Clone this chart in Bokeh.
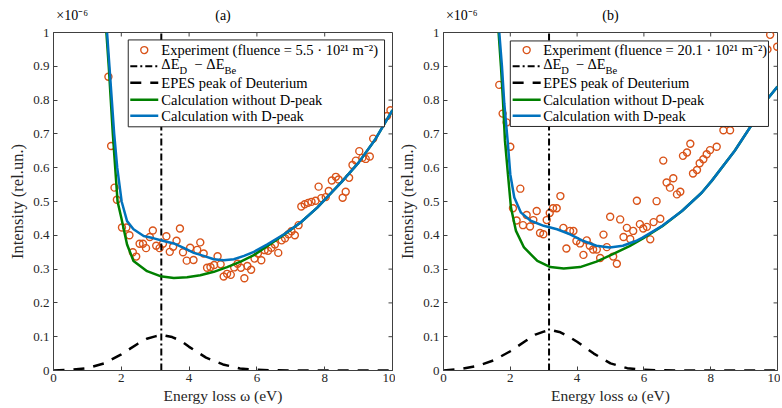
from bokeh.plotting import figure
from bokeh.models import Range1d, FixedTicker, CustomJSTickFormatter, LinearAxis
from bokeh.layouts import row
from bokeh.embed import file_html
from bokeh.resources import INLINE
from bokeh.core.properties import value

# ---------------- data (intensity in units of 1e-6 rel.un.) ----------------
x_ticks = [0, 2, 4, 6, 8, 10]
y_ticks = [0, 0.1, 0.2, 0.3, 0.4, 0.5, 0.6, 0.7, 0.8, 0.9, 1.0]
titles = ["(a)", "(b)"]
exponent_label = "×10⁻⁶"
fluences = ["5.5", "20.1"]
delta_e = [3.18, 3.16]

exp_a_x = [1.62, 1.70, 1.80, 1.87, 2.02, 2.15, 2.24, 2.34, 2.44, 2.54, 2.64, 2.73, 2.84, 2.93,
           3.03, 3.13, 3.23, 3.33, 3.43, 3.53, 3.63, 3.73, 3.82, 3.93, 4.03, 4.13, 4.24, 4.33,
           4.43, 4.53, 4.63, 4.74, 4.84, 4.93, 5.02, 5.12, 5.23, 5.33, 5.43, 5.53, 5.63, 5.72,
           5.83, 5.93, 6.03, 6.13, 6.23, 6.33, 6.43, 6.53, 6.63, 6.73, 6.83, 6.93, 7.02, 7.12,
           7.23, 7.31, 7.41, 7.51, 7.61, 7.73, 7.82, 7.90, 8.03, 8.12, 8.21, 8.33, 8.41, 8.53,
           8.62, 8.72, 8.82, 8.92, 9.02, 9.11, 9.21, 9.33, 9.43, 9.84, 9.94]
exp_a_y = [0.869, 0.664, 0.541, 0.505, 0.423, 0.423, 0.400, 0.350, 0.337, 0.375, 0.375, 0.362, 0.395, 0.414,
           0.369, 0.362, 0.375, 0.397, 0.351, 0.366, 0.384, 0.420, 0.350, 0.325, 0.363, 0.327, 0.357, 0.379,
           0.346, 0.304, 0.306, 0.312, 0.338, 0.314, 0.278, 0.286, 0.283, 0.305, 0.316, 0.304, 0.273, 0.309,
           0.298, 0.331, 0.346, 0.326, 0.356, 0.354, 0.363, 0.373, 0.348, 0.385, 0.391, 0.403, 0.412, 0.400,
           0.430, 0.485, 0.492, 0.496, 0.499, 0.502, 0.544, 0.510, 0.513, 0.531, 0.562, 0.573, 0.565, 0.511,
           0.529, 0.570, 0.608, 0.621, 0.649, 0.629, 0.626, 0.633, 0.686, 0.753, 0.770]

green_a_x = [1.56, 1.63, 1.69, 1.75, 1.82, 1.89, 2.00, 2.17, 2.36, 2.76, 3.15, 3.55, 3.94, 4.33,
             4.73, 5.12, 5.52, 5.91, 6.30, 6.80, 7.29, 7.78, 8.50, 9.00, 9.50, 10.0]
green_a_y = [1.0, 0.9, 0.8, 0.7, 0.6, 0.5, 0.452, 0.373, 0.324, 0.294, 0.279, 0.274, 0.276, 0.282,
             0.292, 0.306, 0.322, 0.341, 0.368, 0.402, 0.438, 0.482, 0.558, 0.615, 0.685, 0.770]

blue_a_x = [1.58, 1.65, 1.72, 1.79, 1.88, 2.01, 2.17, 2.36, 2.66, 2.96, 3.25, 3.55, 3.84, 4.14,
            4.43, 4.73, 5.02, 5.32, 5.62, 5.91, 6.31, 6.80, 7.29, 7.78, 8.50, 9.00, 9.50, 10.0]
blue_a_y = [1.0, 0.9, 0.8, 0.7, 0.6, 0.5, 0.442, 0.418, 0.398, 0.391, 0.383, 0.376, 0.363, 0.348,
            0.339, 0.329, 0.326, 0.329, 0.339, 0.351, 0.373, 0.403, 0.438, 0.482, 0.558, 0.615, 0.685, 0.770]

epes_x = [0, 0.5, 1.0, 1.5, 2.0, 2.5, 2.75, 3.0, 3.2, 3.5, 3.75, 4.0, 4.5, 5.0, 5.5, 6.0, 6.5, 7.0, 8.0, 9.0, 10.0]
epes_a_y = [0, 0.002, 0.007, 0.021, 0.048, 0.080, 0.094, 0.101, 0.105, 0.099, 0.088, 0.070, 0.038, 0.018,
            0.006, 0.002, 0.0005, 0, 0, 0, 0]
epes_b_y = [0, 0.004, 0.013, 0.030, 0.057, 0.090, 0.106, 0.115, 0.120, 0.113, 0.100, 0.085, 0.050, 0.021,
            0.007, 0.002, 0.0005, 0, 0, 0, 0]

exp_b_x = [1.67, 1.77, 1.89, 2.00, 2.08, 2.19, 2.30, 2.38, 2.49, 2.59, 2.69, 2.79, 2.89, 2.99,
           3.09, 3.18, 3.28, 3.39, 3.50, 3.59, 3.68, 3.79, 3.89, 3.98, 4.09, 4.19, 4.29, 4.38,
           4.48, 4.59, 4.69, 4.79, 4.89, 4.99, 5.08, 5.19, 5.29, 5.39, 5.49, 5.59, 5.68, 5.79,
           5.88, 5.98, 6.09, 6.19, 6.29, 6.38, 6.49, 6.58, 6.68, 6.78, 6.88, 6.99, 7.09, 7.17,
           7.29, 7.39, 7.47, 7.59, 7.67, 7.78, 7.88, 7.98, 8.18, 8.38, 8.58, 9.70, 9.78, 9.99]
exp_b_y = [0.845, 0.760, 0.734, 0.662, 0.480, 0.444, 0.538, 0.430, 0.460, 0.426, 0.445, 0.472, 0.407, 0.403,
           0.445, 0.466, 0.480, 0.480, 0.516, 0.422, 0.361, 0.413, 0.413, 0.383, 0.376, 0.342, 0.385, 0.369,
           0.358, 0.358, 0.333, 0.402, 0.365, 0.455, 0.337, 0.316, 0.447, 0.395, 0.422, 0.389, 0.413, 0.502,
           0.433, 0.420, 0.425, 0.388, 0.439, 0.501, 0.449, 0.621, 0.556, 0.541, 0.569, 0.521, 0.529, 0.635,
           0.645, 0.671, 0.583, 0.593, 0.613, 0.625, 0.640, 0.652, 0.662, 0.711, 0.711, 0.950, 0.993, 0.958]

green_b_x = [1.65, 1.72, 1.78, 1.84, 1.93, 2.02, 2.17, 2.41, 2.81, 3.20, 3.60, 4.09, 4.58, 5.07,
             5.57, 5.96, 6.55, 7.14, 7.73, 8.03, 8.72, 9.21, 9.70, 10.0]
green_b_y = [1.0, 0.9, 0.8, 0.68, 0.58, 0.482, 0.413, 0.364, 0.324, 0.306, 0.302, 0.306, 0.322, 0.344,
             0.368, 0.390, 0.427, 0.472, 0.526, 0.561, 0.650, 0.724, 0.803, 0.840]

blue_b_x = [1.67, 1.75, 1.82, 1.92, 2.00, 2.12, 2.32, 2.61, 3.00, 3.40, 3.79, 4.19, 4.58, 4.98,
            5.37, 5.76, 5.96, 6.55, 7.14, 7.73, 8.03, 8.72, 9.21, 9.70, 10.0]
blue_b_y = [1.0, 0.9, 0.79, 0.68, 0.58, 0.512, 0.467, 0.443, 0.428, 0.418, 0.403, 0.383, 0.369, 0.364,
            0.369, 0.383, 0.393, 0.428, 0.472, 0.526, 0.561, 0.650, 0.724, 0.803, 0.840]

# ---------------- styling ----------------
FONT = "Liberation Serif"
AXC = "#404040"
TXT = "#262626"
C_EXP = "#D95319"
C_GREEN = "#008000"
C_BLUE = "#0072BD"
FIG_H = 407
BORDER_TOP = 32
BORDER_BOTTOM = 37
FRAME_W = 339
FRAME_H = FIG_H - BORDER_TOP - BORDER_BOTTOM
PXX = FRAME_W / 10.0   # pixels per eV
PXY = FRAME_H / 1.0    # pixels per 1e-6
TICK = 4

LEG_FS = 14.5
SUB_FS = 10.5
ROW_Y = [0.948, 0.900, 0.851, 0.801, 0.754]


def style_axis(ax, ticks):
    ax.ticker = FixedTicker(ticks=ticks)
    ax.major_tick_in = TICK
    ax.major_tick_out = 0
    ax.minor_tick_line_color = None
    ax.axis_line_color = AXC
    ax.major_tick_line_color = AXC
    ax.major_label_text_font = FONT
    ax.major_label_text_color = TXT
    ax.major_label_text_font_size = "13px"
    ax.axis_label_text_font = FONT
    ax.axis_label_text_font_style = "normal"
    ax.axis_label_text_color = TXT


def make_panel(idx, exp_x, exp_y, g_x, g_y, b_x, b_y, ep_y, width, bl, br, leg):
    p = figure(width=width, height=FIG_H, output_backend="svg", toolbar_location=None, tools="",
               x_range=Range1d(0, 10), y_range=Range1d(0, 1),
               min_border_left=bl, min_border_right=br,
               min_border_top=BORDER_TOP, min_border_bottom=BORDER_BOTTOM)
    p.grid.visible = False
    p.outline_line_color = AXC
    p.background_fill_color = "white"
    p.border_fill_color = "white"

    style_axis(p.xaxis[0], x_ticks)
    style_axis(p.yaxis[0], y_ticks)
    p.yaxis[0].formatter = CustomJSTickFormatter(code="return Number(tick.toFixed(2)).toString();")
    p.xaxis[0].major_label_standoff = 3
    p.yaxis[0].major_label_standoff = 4
    p.xaxis.axis_label = "Energy loss ω (eV)"
    p.yaxis.axis_label = "Intensity (rel.un.)"
    p.xaxis[0].axis_label_text_font_size = "15.5px"
    p.yaxis[0].axis_label_text_font_size = "16.5px"
    p.xaxis[0].axis_label_standoff = 2
    p.yaxis[0].axis_label_standoff = 3

    # top strip: panel title centred and the exponent marker at the left corner
    top = LinearAxis(ticker=FixedTicker(ticks=[0.55, 5.0]),
                     formatter=CustomJSTickFormatter(args=dict(title=titles[idx], expo=exponent_label),
                                                     code="return tick < 2 ? expo : title;"))
    top.axis_line_color = None
    top.major_tick_line_color = None
    top.minor_tick_line_color = None
    top.major_label_standoff = 4
    top.major_label_text_font = FONT
    top.major_label_text_font_size = "14px"
    top.major_label_text_color = "black"
    p.add_layout(top, "above")

    # inward ticks on the top and right edges of the box
    nx, ny = len(x_ticks), len(y_ticks)
    p.segment(x0=x_ticks, y0=[1.0] * nx, x1=x_ticks, y1=[1.0 - TICK / PXY] * nx, line_color=AXC, line_width=1)
    p.segment(x0=[10.0] * ny, y0=y_ticks, x1=[10.0 - TICK / PXX] * ny, y1=y_ticks, line_color=AXC, line_width=1)

    de = delta_e[idx]
    p.scatter(exp_x, exp_y, marker="circle", size=7, fill_color=None, line_color=C_EXP, line_width=1.4)
    p.line([de, de], [0, 1], line_color="black", line_width=2, line_dash="7 3 2 3")
    p.line(epes_x, ep_y, line_color="black", line_width=2.5, line_dash="11 9")
    p.line(g_x, g_y, line_color=C_GREEN, line_width=2.5)
    p.line(b_x, b_y, line_color=C_BLUE, line_width=2.5)

    # legend (drawn in data space, ranges are fixed)
    lx0, lx1, ly0, ly1, s0, s1, tx = leg
    p.quad(left=[lx0], right=[lx1], bottom=[ly0], top=[ly1], fill_color="white",
           line_color="#262626", line_width=1)
    sc = (s0 + s1) / 2
    p.scatter([sc], [ROW_Y[0]], marker="circle", size=7, fill_color=None, line_color=C_EXP, line_width=1.4)
    p.line([s0, s1], [ROW_Y[1]] * 2, line_color="black", line_width=2, line_dash="7 3 2 3")
    p.line([s0, s1], [ROW_Y[2]] * 2, line_color="black", line_width=2.5, line_dash="11 9")
    p.line([s0, s1], [ROW_Y[3]] * 2, line_color=C_GREEN, line_width=2.5)
    p.line([s0, s1], [ROW_Y[4]] * 2, line_color=C_BLUE, line_width=2.5)

    main_texts = ["Experiment (fluence = " + fluences[idx] + " · 10²¹ m⁻²)",
                  "EPES peak of Deuterium",
                  "Calculation without D-peak",
                  "Calculation with D-peak"]
    main_y = [ROW_Y[0], ROW_Y[2], ROW_Y[3], ROW_Y[4]]
    p.text([tx] * 4, main_y, text=main_texts, text_font=value(FONT), text_font_size=value("%gpx" % LEG_FS),
           text_baseline="middle", text_align="left", text_color="black")

    # row 2: ΔE_D − ΔE_Be with real subscripts (pixel offsets from the text start)
    up = 2.5 / PXY
    dn = 4.5 / PXY
    p.text([tx, tx + 33.0 / PXX, tx + 45.0 / PXX], [ROW_Y[1] + up] * 3, text=["ΔE", "−", "ΔE"],
           text_font=value(FONT), text_font_size=value("%gpx" % LEG_FS),
           text_baseline="middle", text_align="left", text_color="black")
    p.text([tx + 18.2 / PXX, tx + 63.2 / PXX], [ROW_Y[1] - dn] * 2, text=["D", "Be"],
           text_font=value(FONT), text_font_size=value("%gpx" % SUB_FS),
           text_baseline="middle", text_align="left", text_color="black")
    return p


leg_a = (2.205, 9.765, 0.721, 0.978, 2.265, 3.09, 3.18)
leg_b = (2.00, 9.73, 0.722, 0.975, 2.07, 2.91, 2.985)

p1 = make_panel(0, exp_a_x, exp_a_y, green_a_x, green_a_y, blue_a_x, blue_a_y, epes_a_y,
                width=395, bl=53, br=3, leg=leg_a)
p2 = make_panel(1, exp_b_x, exp_b_y, green_b_x, green_b_y, blue_b_x, blue_b_y, epes_b_y,
                width=385, bl=43, br=3, leg=leg_b)

layout = row(p1, p2)
open("out.html", "w").write(file_html(layout, INLINE))
